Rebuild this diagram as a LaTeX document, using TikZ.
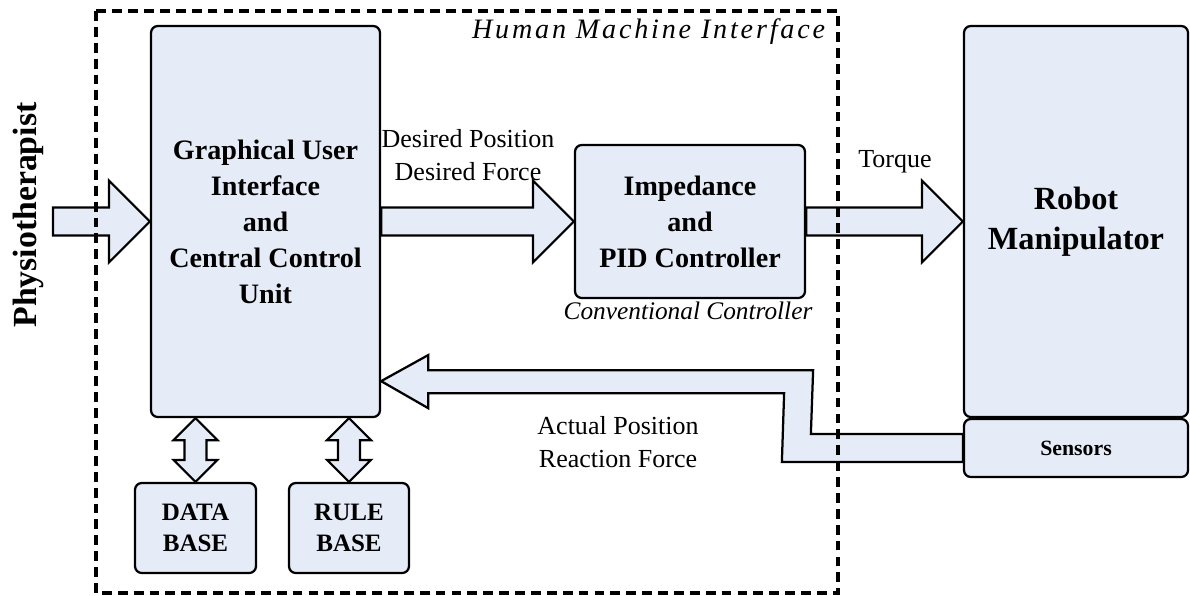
\documentclass[tikz,border=0pt]{standalone}
\usepackage{fontspec}
\setmainfont{Liberation Serif}
\newfontfamily\hmifont[LetterSpace=10]{Liberation Serif}
\usetikzlibrary{calc}
\definecolor{boxblue}{RGB}{230,236,247}

\begin{document}
\begin{tikzpicture}[x=0.025cm,y=-0.025cm,
	block/.style={draw,fill=boxblue,line width=1.6pt,rounded corners=0.17cm,inner sep=0pt,align=center},
	hollow/.style={draw,fill=boxblue,line width=1.6pt},
	boldtext/.style={font=\fontsize{20}{25.6}\selectfont\bfseries},
	labeltext/.style={font=\fontsize{18.5}{24}\selectfont,align=center}]
	\def\pu{0.025cm}	%one pixel of the original
	\def\sh{14}	%half width of a shaft
	\def\hh{41}	%half width of a head
	\def\hl{41}	%length of a head
	\useasboundingbox (0,0) rectangle (1190,595);

	\node[block,boldtext,minimum width=229*\pu,minimum height=391*\pu] (gui) at (265.5,221.5) {Graphical User\\Interface\\and\\Central Control\\Unit};
	\node[block,boldtext,minimum width=230*\pu,minimum height=153*\pu] (imp) at (690,221.5) {Impedance\\and\\PID Controller};
	\node[block,font=\fontsize{23}{28.5}\selectfont\bfseries,minimum width=224*\pu,minimum height=391*\pu] (robot) at (1076,221.5) {Robot\\Manipulator};
	\node[block,font=\fontsize{15.5}{18}\selectfont\bfseries,minimum width=224*\pu,minimum height=58*\pu] (sens) at (1076,448) {Sensors};
	\node[block,font=\fontsize{17.8}{22}\selectfont\bfseries,minimum width=121*\pu,minimum height=90*\pu] (data) at (195.5,528) {DATA\\BASE};
	\node[block,font=\fontsize{17.8}{22}\selectfont\bfseries,minimum width=120*\pu,minimum height=90*\pu] (rule) at (349,528) {RULE\\BASE};

	\coordinate (src) at (53,221.5);	%tail of the input arrow
	\foreach \a/\b in {src/gui.west,gui.east/imp.west,imp.east/robot.west}{
		\draw[hollow] ($(\a)+(0,-\sh)$) -- ($(\b)+(-\hl,-\sh)$) -- ($(\b)+(-\hl,-\hh)$) -- (\b) -- ($(\b)+(-\hl,\hh)$) -- ($(\b)+(-\hl,\sh)$) -- ($(\a)+(0,\sh)$) -- cycle;
	}
	\foreach \b in {data,rule}{
		\coordinate (t) at (\b.north |- gui.south);
		\draw[hollow] (t) -- ++(22,22) -- ++(-11,0) -- ($(\b.north)+(11,-22)$) -- ++(11,0) -- (\b.north) -- ++(-22,-22) -- ++(11,0) -- ($(t)+(-11,22)$) -- ++(-11,0) -- cycle; %two-headed arrow
	}
	\coordinate (fb) at ($(gui.south east)+(0,-37)$);	%tip of the feedback arrow
	\draw[hollow] (fb) -- ++(47,-26) -- ++(0,15) -- ($(fb)+(432,-11)$) -- ($(sens.west)+(-152,-14)$) -- ($(sens.west)+(0,-14)$) -- ($(sens.west)+(0,14)$) -- ($(sens.west)+(-181,14)$) -- ($(fb)+(403,12)$) -- ($(fb)+(47,12)$) -- ++(0,15) -- cycle;

	\node[labeltext] (des) at (468,155) {Desired Position\\Desired Force};
	\node[labeltext] (torque) at (895,162) {Torque};
	\node[labeltext] (act) at (618,442) {Actual Position\\Reaction Force};
	\node[font=\fontsize{18}{22}\selectfont\itshape] (conv) at (688,311) {Conventional Controller};
	\node[font=\fontsize{20}{24}\selectfont\hmifont\itshape,anchor=east] (hmi) at (830,32) {Human Machine Interface};
	\node[font=\fontsize{24}{28}\selectfont\bfseries,rotate=90] (physio) at (28,215) {Physiotherapist};

	\draw[line width=2.2pt,dash pattern=on 7pt off 4.3pt] (96,11) rectangle (838,593);	%interface frame
\end{tikzpicture}
\end{document}
